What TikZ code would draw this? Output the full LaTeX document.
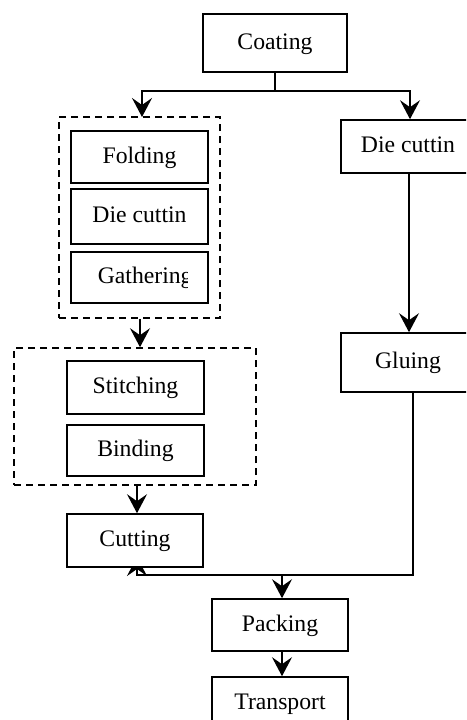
\documentclass[tikz,border=0pt]{standalone}
\usepackage{fontspec}
\setmainfont{Liberation Serif}
\usetikzlibrary{arrows.meta,backgrounds}
\tikzset{
  box/.style={draw, line width=1.6pt, fill=white, inner sep=0pt, text height=17pt, text depth=5pt,
    font=\fontsize{23.7}{28}\selectfont},
  grp/.style={draw, line width=1.6pt, dash pattern=on 7pt off 5pt, inner sep=0pt},
  conn/.style={line width=1.6pt},
  arr/.style={conn, -{Stealth[length=19pt,width=20pt,inset=7pt]}},
}
\begin{document}
\begin{tikzpicture}[x=1pt,y=-1pt]
\useasboundingbox (0,0) rectangle (466,720);
\clip (0,0) rectangle (466,720);
% nodes
\node[box, minimum width=144pt, minimum height=58pt] (coating) at (275,43) {Coating};
\node[grp, minimum width=161pt, minimum height=201pt] (grp1) at (139.5,217.5) {};
\node[box, minimum width=137pt, minimum height=52pt] (folding) at (139.5,157) {Folding};
\node[box, minimum width=137pt, minimum height=55pt] (diecut1) at (139.5,216.5) {Die cuttin};
\node[box, minimum width=137pt, minimum height=51pt] (gathering) at (139.5,277.5) {};
\begin{scope}
\clip (71,252) rectangle (187,303);
\node[box, draw=none, fill=none, anchor=west] (gathtext) at (97,277.5) {Gathering};
\end{scope}
\node[grp, minimum width=242pt, minimum height=137pt] (grp2) at (135,416.5) {};
\node[box, minimum width=137pt, minimum height=53pt] (stitching) at (135.5,387.5) {Stitching};
\node[box, minimum width=137pt, minimum height=51pt] (binding) at (135.5,450.5) {Binding};
\node[box, minimum width=136pt, minimum height=53pt] (cutting) at (135,540.5) {Cutting};
\node[box, minimum width=134pt, minimum height=53pt] (diecut2) at (408,146.5) {Die cuttin};
\node[box, minimum width=134pt, minimum height=59pt] (gluing) at (408,362.5) {Gluing};
\node[box, minimum width=136pt, minimum height=52pt] (packing) at (280,625) {Packing};
\node[box, minimum width=136pt, minimum height=52pt] (transport) at (280,703) {Transport};
\coordinate (split) at (275,91);
\coordinate (join) at (282,575);
% connectors
\begin{scope}[on background layer]
\draw[conn] (coating.south) -- (split);
\draw[arr] (split) -| (142,117);
\draw[arr] (split) -| (diecut2.north -| 410,0);
\draw[arr] (grp1.south -| 140,0) -- (grp2.north -| 140,0);
\draw[arr] (grp2.south -| 137,0) -- (cutting.north -| 137,0);
\draw[arr] (diecut2.south -| 409,0) -- (gluing.north -| 409,0);
\draw[arr] (gluing.south -| 413,0) |- (137,575) -- (137,557);
\draw[arr] (join) -- (packing.north -| 282,0);
\draw[arr] (packing.south -| 282,0) -- (transport.north -| 282,0);
\end{scope}
\end{tikzpicture}
\end{document}
